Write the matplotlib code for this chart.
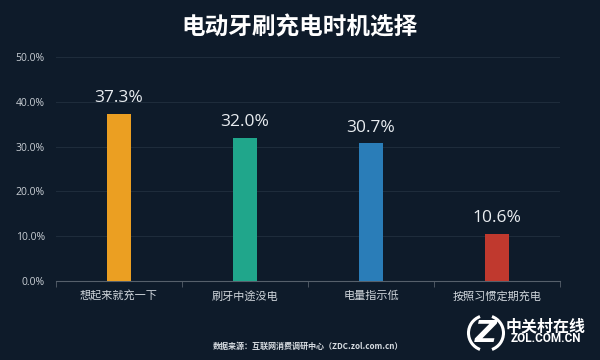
import matplotlib
matplotlib.use("Agg")
import matplotlib.pyplot as plt
from matplotlib.ticker import FuncFormatter, FixedLocator
from matplotlib.patches import Arc

plt.rcParams['font.family'] = ['Noto Sans CJK SC', 'DejaVu Sans']

categories = ["想起来就充一下", "刷牙中途没电", "电量指示低", "按照习惯定期充电"]
values = [37.3, 32.0, 30.7, 10.6]
colors = ["#eb9f22", "#20a68b", "#2a7db8", "#c0392e"]
yticks = [0, 10, 20, 30, 40, 50]
title = "电动牙刷充电时机选择"
source = "数据来源：互联网消费调研中心（ZDC.zol.com.cn）"

bg = "#0e1b2a"
fig = plt.figure(figsize=(6, 3.6), dpi=100, facecolor=bg)
ax = fig.add_axes([0.0933, 0.2194, 0.84, 0.6223], facecolor=bg)

x = list(range(len(categories)))
ax.bar(x, values, width=0.19, color=colors, zorder=3)
for xi, v in zip(x, values):
    ax.annotate(f"{v:.1f}%", (xi, v), xytext=(0, 5.5), textcoords="offset points",
                ha="center", va="bottom", color="#e8ecf0", fontsize=12.5,
                family=["Open Sans", "DejaVu Sans"])

ax.set_xlim(-0.5, len(categories) - 0.5)
ax.set_ylim(0, 50)
ax.set_yticks(yticks)
ax.yaxis.set_major_formatter(FuncFormatter(lambda v, p: f"{v:.1f}%"))
ax.grid(axis="y", color="#1e2c3b", linewidth=0.8, zorder=0)
ax.set_xticks(x)
ax.set_xticklabels(categories)
ax.xaxis.set_minor_locator(FixedLocator([i - 0.5 for i in range(len(categories) + 1)]))
ax.tick_params(axis="x", which="major", length=0, colors="#d0d6dc", labelsize=8, pad=7)
ax.tick_params(axis="x", which="minor", length=4, color="#56606b", direction="out")
ax.tick_params(axis="y", length=0, colors="#c8ced4", labelsize=7.5, pad=8)
for lab in ax.get_yticklabels():
    lab.set_family(["Open Sans", "DejaVu Sans"])
for s in ["top", "right", "left"]:
    ax.spines[s].set_visible(False)
ax.spines["bottom"].set_color("#56606b")

fig.text(0.5, 1 - 27 / 360, title, ha="center", va="center", color="white", fontsize=17, fontweight="bold")
fig.text(308 / 600, 1 - 346 / 360, source, ha="center", va="center", color="#d8dde2", fontsize=5.8, fontweight="bold")

# logo
cx, cy = 4.86, 0.27
fig.text(cx / 6, cy / 3.6, "Z", ha="center", va="center", color="white", fontsize=22,
         fontweight="bold", style="italic", family="DejaVu Sans")
for t1, t2 in [(110, 250), (-70, 70)]:
    fig.add_artist(Arc((cx, cy), 0.35, 0.35, theta1=t1, theta2=t2, color="white", lw=2.2,
                       transform=fig.dpi_scale_trans))
fig.text(546 / 600, 1 - 326 / 360, "中关村在线", ha="center", va="center", color="white", fontsize=11.5,
         fontweight="bold")
fig.text(546 / 600, 1 - 339 / 360, "ZOL.COM.CN", ha="center", va="center", color="white", fontsize=8.5,
         fontweight="bold", family=["Roboto", "DejaVu Sans"])

fig.savefig("out.png", dpi=100, facecolor=bg)
